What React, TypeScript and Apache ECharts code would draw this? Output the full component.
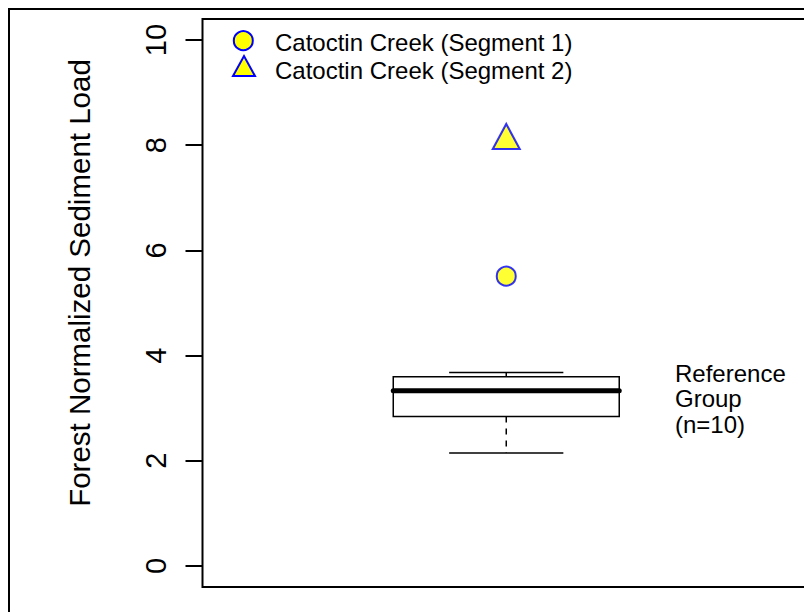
import React, { useEffect, useRef } from 'react';
import * as echarts from 'echarts';

const categories = ['Reference Group'];
const groupSize = [10];
// min, q1, median, q3, max
const boxStats = [[2.15, 2.84, 3.33, 3.6, 3.68]];
const segment1Values = [5.51];
const segment2Values = [8.09];
const yTickValues = [0, 2, 4, 6, 8, 10];
const seriesNames = ['Catoctin Creek (Segment 1)', 'Catoctin Creek (Segment 2)'];

const FONT = '"Liberation Sans", Arial, Helvetica, sans-serif';
const YELLOW = '#ffff00';
const BLUE = '#0000ff';

export default function App() {
  const ref = useRef<HTMLDivElement>(null);

  useEffect(() => {
    const chart = echarts.init(ref.current as HTMLDivElement, null, { renderer: 'svg' });
    const BOX_HALF = 0.186;
    const CAP_HALF = 0.094;
    const boxData = boxStats.map((s, i) => [i + 1, ...s]);
    const groupLabel = categories[0].split(' ').join('\n') + `\n(n=${groupSize[0]})`;

    chart.setOption({
      animation: false,
      grid: {
        left: 202.5,
        top: 19,
        bottom: 25,
        right: 0,
        show: true,
        borderColor: '#000',
        borderWidth: 2,
        backgroundColor: 'transparent',
      },
      xAxis: {
        type: 'value',
        min: 0.5,
        max: 1.5,
        axisLine: { show: false },
        axisTick: { show: false },
        axisLabel: { show: false },
        splitLine: { show: false },
      },
      yAxis: {
        type: 'value',
        min: -0.4,
        max: 10.4,
        name: 'Forest Normalized Sediment Load',
        nameLocation: 'middle',
        nameRotate: 90,
        nameGap: 108,
        nameTextStyle: { fontSize: 29.5, color: '#000', fontFamily: FONT, padding: [0, 0, 0, 40] },
        axisLine: { show: false },
        axisTick: {
          show: true,
          inside: false,
          length: 17,
          lineStyle: { color: '#000', width: 2 },
          customValues: yTickValues,
        },
        axisLabel: {
          rotate: 90,
          fontSize: 29,
          margin: 32,
          color: '#000',
          fontFamily: FONT,
          customValues: yTickValues,
        },
        splitLine: { show: false },
      },
      graphic: [
        {
          type: 'polyline',
          shape: { points: [[9, 612], [9, 9], [810, 9]] },
          style: { stroke: '#000', lineWidth: 2, fill: null },
          silent: true,
        },
        {
          type: 'circle',
          shape: { cx: 243.3, cy: 40.7, r: 9.5 },
          style: { fill: YELLOW, stroke: BLUE, lineWidth: 2 },
        },
        {
          type: 'polygon',
          shape: { points: [[233, 76], [255, 76], [244, 56]] },
          style: { fill: YELLOW, stroke: BLUE, lineWidth: 2 },
        },
        {
          type: 'text',
          x: 275,
          y: 42.5,
          style: { text: seriesNames[0], fontSize: 24, lineHeight: 24, fontFamily: FONT, fill: '#000', verticalAlign: 'middle', align: 'left' },
        },
        {
          type: 'text',
          x: 275,
          y: 70.2,
          style: { text: seriesNames[1], fontSize: 24, lineHeight: 24, fontFamily: FONT, fill: '#000', verticalAlign: 'middle', align: 'left' },
        },
        {
          type: 'text',
          x: 675,
          y: 398.8,
          style: { text: groupLabel, fontSize: 24, lineHeight: 25.5, fontFamily: FONT, fill: '#000', verticalAlign: 'middle', align: 'left' },
        },
      ],
      series: [
        {
          type: 'custom',
          name: categories[0],
          data: boxData,
          encode: { x: 0, y: [1, 2, 3, 4, 5] },
          z: 2,
          renderItem: (params: any, api: any) => {
            const x = api.value(0);
            const mn = api.value(1);
            const q1 = api.value(2);
            const md = api.value(3);
            const q3 = api.value(4);
            const mx = api.value(5);
            const p = (dx: number, v: number) => api.coord([x + dx, v]);
            const thin = { stroke: '#000', lineWidth: 1.5 };
            const seg = (a: number[], b: number[], style: any) => ({
              type: 'line',
              shape: { x1: a[0], y1: a[1], x2: b[0], y2: b[1] },
              style,
            });
            const tl = p(-BOX_HALF, q3);
            const br = p(BOX_HALF, q1);
            return {
              type: 'group',
              children: [
                seg(p(0, q1), p(0, mn), { ...thin, lineDash: [6, 6] }),
                seg(p(0, q3), p(0, mx), { ...thin, lineDash: [6, 6] }),
                seg(p(-CAP_HALF, mn), p(CAP_HALF, mn), thin),
                seg(p(-CAP_HALF, mx), p(CAP_HALF, mx), thin),
                {
                  type: 'rect',
                  shape: { x: tl[0], y: tl[1], width: br[0] - tl[0], height: br[1] - tl[1] },
                  style: { fill: '#fff', stroke: '#000', lineWidth: 1.5 },
                },
                seg(p(-BOX_HALF, md), p(BOX_HALF, md), { stroke: '#000', lineWidth: 5, lineCap: 'round' }),
              ],
            };
          },
        },
        {
          type: 'scatter',
          name: seriesNames[0],
          data: segment1Values.map((v) => [1, v]),
          symbol: 'circle',
          symbolSize: 19,
          z: 3,
          itemStyle: { color: YELLOW, borderColor: BLUE, borderWidth: 2 },
        },
        {
          type: 'scatter',
          name: seriesNames[1],
          data: segment2Values.map((v) => [1, v]),
          symbol: 'triangle',
          symbolSize: [27, 25],
          symbolOffset: [0, -4],
          z: 3,
          itemStyle: { color: YELLOW, borderColor: BLUE, borderWidth: 2 },
        },
      ],
    });

    return () => {
      chart.dispose();
    };
  }, []);

  return (
    <div
      style={{ position: 'fixed', left: 0, top: 0, width: 804, height: 612, overflow: 'hidden', background: '#fff' }}
    >
      <div ref={ref} style={{ width: 810, height: 612 }} />
    </div>
  );
}
